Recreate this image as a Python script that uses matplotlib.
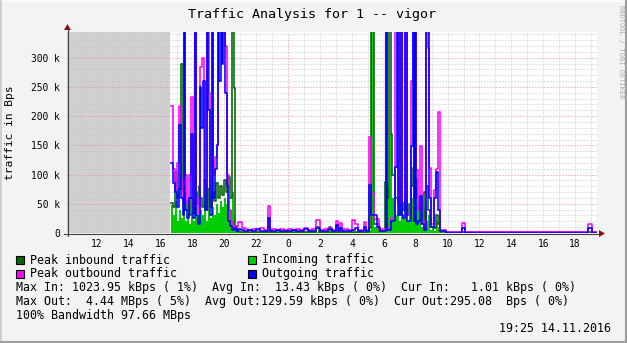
import matplotlib
matplotlib.use("Agg")
import matplotlib.pyplot as plt
from matplotlib.lines import Line2D
from matplotlib.patches import Rectangle, Polygon
import numpy as np

# ---------------- data (time in hours since midnight of day 1, values in kBps) ----------------
t_start, t_end = 10.125, 43.375
unknown_end = 16.5625

out_t = [16.625, 16.75, 16.875, 17.0, 17.125, 17.25, 17.375, 17.4375, 17.5, 17.625, 17.75, 17.875,
         18.0, 18.125, 18.1875, 18.3125, 18.4375, 18.5625, 18.6875, 18.8125, 18.9375, 19.0, 19.125,
         19.25, 19.3125, 19.4375, 19.5625, 19.625, 19.6875, 19.8125, 19.875, 19.9375, 20.0625, 20.1875,
         20.25, 20.375,
         20.5, 20.625, 20.75, 20.875, 21.0625, 21.25, 21.5, 21.75, 22.0, 22.25, 22.5, 22.75, 22.875,
         23.0, 23.25, 23.5, 23.75, 24.0, 24.25, 24.5, 24.75, 25.0, 25.25, 25.5, 25.75, 26.0, 26.25,
         26.5, 26.75, 27.0, 27.125, 27.25, 27.375, 27.5, 27.75, 28.0, 28.1875, 28.375, 28.75, 28.875,
         29.0625, 29.1875, 29.5625, 29.75, 30.125, 30.1875, 30.4375, 30.6875, 30.8125, 30.875, 31.0,
         31.125, 31.1875, 31.3125, 31.4375, 31.6875, 31.8125, 31.875, 31.9375, 32.0, 32.125, 32.25,
         32.375, 32.5, 32.625, 32.8125, 32.9375, 33.125, 33.25, 33.375, 33.5, 33.875, 34.875, 35.0625,
         42.8125, 43.0625]
out_v = [120, 85, 70, 45, 185, 60, 30, 400, 40, 25, 60, 170,
         25, 400, 30, 15, 250, 180, 260, 40, 400, 210, 30,
         400, 60, 110, 150, 400, 260, 400, 290, 400, 240, 80,
         20, 12,
         5, 8, 4, 7, 5, 3, 5, 3, 6, 3, 4, 26, 4,
         3, 5, 3, 4, 3, 5, 3, 4, 6, 3, 4, 8, 3, 4,
         6, 3, 14, 3, 8, 3, 4, 3, 5, 8, 3, 10, 3,
         82, 30, 10, 4, 400, 5, 20, 113, 400, 30, 400,
         30, 25, 400, 20, 149, 400, 20, 400, 15, 20, 64,
         15, 5, 400, 60, 10, 60, 105, 40, 3, 0.5, 8, 0.5,
         8, 0.5]

pout_t = [16.625, 16.75, 16.875, 17.0, 17.125, 17.25, 17.375, 17.4375, 17.5, 17.625, 17.75, 17.875,
          18.0, 18.125, 18.1875, 18.3125, 18.4375, 18.625, 18.75, 18.9375, 19.0625, 19.125, 19.25,
          19.3125, 19.4375, 19.5625, 19.625, 20.0625, 20.1875, 20.3125, 20.4375, 20.5625, 20.6875,
          20.875, 21.125, 21.3125, 21.5, 21.75, 22.0, 22.25, 22.5, 22.75, 22.875, 23.0, 23.25, 23.5,
          23.75, 24.0, 24.25, 24.5, 24.75, 25.0, 25.25, 25.5, 25.75, 26.0, 26.25, 26.5, 26.75, 27.0,
          27.125, 27.25, 27.375, 27.5, 27.75, 28.0, 28.1875, 28.375, 28.75, 28.875, 29.0625, 29.1875,
          29.375, 29.6875, 30.125, 30.1875, 30.4375, 30.6875, 30.875, 31.0, 31.125, 31.1875, 31.3125,
          31.4375, 31.6875, 31.8125, 31.875, 31.9375, 32.0, 32.125, 32.25, 32.375, 32.5, 32.625,
          32.75, 32.8125, 32.9375, 33.125, 33.25, 33.375, 33.5, 33.875, 34.875, 35.0625, 42.8125,
          43.0625]
pout_v = [217, 110, 75, 120, 217, 90, 55, 400, 100, 50, 100, 233,
          45, 400, 60, 35, 284, 300, 70, 400, 240, 60, 400,
          100, 130, 150, 400, 320, 100, 40, 18, 12, 10,
          19, 8, 6, 5, 7, 5, 8, 5, 46, 5, 6, 5, 7,
          5, 6, 5, 7, 5, 8, 5, 6, 22, 5, 6, 8, 5, 20,
          5, 17, 5, 6, 5, 22, 16, 5, 18, 5, 165, 68,
          24, 6, 400, 8, 25, 400, 50, 400, 50, 52, 400,
          30, 260, 400, 30, 400, 107, 40, 149, 20, 5, 400,
          316, 112, 15, 74, 110, 207, 5, 1, 17, 1, 15,
          1]

in_t = [16.625, 16.75, 16.875, 17.0, 17.125, 17.25, 17.375, 17.5, 17.625, 17.75, 17.875, 18.0,
        18.125, 18.25, 18.375, 18.5, 18.625, 18.75, 18.875, 19.0, 19.125, 19.25, 19.375, 19.5,
        19.625, 19.75, 19.875, 20.0, 20.125, 20.25, 20.375, 20.5, 20.59, 20.6875, 20.8125, 20.9375,
        29.0625, 29.1875, 29.375, 29.6875, 30.0625, 30.1875, 30.3125, 30.375, 30.5, 30.625, 30.75,
        30.9375, 31.0625, 31.1875, 31.3125, 31.4375, 31.5625, 31.6875, 31.8125, 31.9375, 32.0625,
        32.1875, 32.3125, 32.5, 32.625, 32.75, 32.875, 33.0, 33.125, 33.25, 33.375, 33.5]
in_v = [48, 30, 55, 20, 40, 25, 45, 20, 30, 15, 35, 20,
        45, 30, 55, 40, 30, 50, 20, 40, 25, 45, 30, 50,
        35, 55, 45, 60, 50, 65, 40, 70, 30, 8, 3, 1.5,
        5, 400, 10, 3, 50, 80, 60, 170, 60, 45, 30,
        20, 40, 25, 55, 20, 35, 60, 30, 80, 50,
        25, 10, 45, 20, 30, 5, 10, 3, 20, 10, 0.8]

pin_t = [16.625, 16.75, 16.875, 17.0, 17.125, 17.25, 17.375, 17.5, 17.625, 17.75, 17.875, 18.0,
         18.125, 18.25, 18.375, 18.5, 18.625, 18.75, 18.875, 19.0, 19.125, 19.25, 19.375, 19.5,
         19.625, 19.75, 19.875, 20.0, 20.125, 20.25, 20.375, 20.46875, 20.59375, 20.6875, 20.8125,
         20.9375, 25.75, 25.9375, 26.5625, 26.6875, 29.0625, 29.1875, 29.375, 29.6875, 30.0625,
         30.1875, 30.3125, 30.4375, 30.5, 30.6875, 30.9375, 31.0625, 31.1875, 31.3125, 31.4375,
         31.5625, 31.6875, 31.8125, 31.9375, 32.0625, 32.1875, 32.3125, 32.5, 32.625, 32.75, 32.875,
         33.125, 33.25, 33.375, 33.5]
pin_v = [52, 45, 105, 60, 75, 289, 70, 40, 55, 30, 60, 35,
         70, 50, 80, 60, 45, 90, 40, 75, 45, 70, 55, 85,
         60, 80, 65, 90, 70, 95, 60, 400, 248, 12, 5,
         2, 10, 2, 10, 2, 8, 400, 15, 4, 88,
         60, 400, 170, 100, 60, 30, 50, 40, 70, 30,
         50, 80, 112, 90, 60, 40, 15, 70, 80, 40, 10,
         8, 30, 15, 1.5]

x_ticks = [12, 14, 16, 18, 20, 22, 24, 26, 28, 30, 32, 34, 36, 38, 40, 42]
x_tick_labels = [str(int(h) % 24) for h in x_ticks]
y_ticks = [0, 50, 100, 150, 200, 250, 300]
y_tick_labels = ["0", "50 k", "100 k", "150 k", "200 k", "250 k", "300 k"]

title = "Traffic Analysis for 1 -- vigor"
legend_items = [("Peak inbound traffic", "#006600"), ("Incoming traffic", "#00CC00"),
                ("Peak outbound traffic", "#FF00FF"), ("Outgoing traffic", "#0000FF")]
stats_lines = ["Max In: 1023.95 kBps ( 1%)  Avg In:  13.43 kBps ( 0%)  Cur In:   1.01 kBps ( 0%)",
               "Max Out:  4.44 MBps ( 5%)  Avg Out:129.59 kBps ( 0%)  Cur Out:295.08  Bps ( 0%)",
               "100% Bandwidth 97.66 MBps"]
stamp = "19:25 14.11.2016"

# ---------------- figure ----------------
W, H = 627, 343
MONO = "DejaVu Sans Mono"
fig = plt.figure(figsize=(W / 100, H / 100), dpi=100, facecolor="#F3F3F3")

def P(x, y):
    return (x / W, 1 - y / H)

# frame
fig.add_artist(Line2D([0, 1], [1 - 0.5 / H, 1 - 0.5 / H], transform=fig.transFigure, color="#FCFCFC", lw=1.2))
fig.add_artist(Line2D([0.5 / W, 0.5 / W], [0, 1], transform=fig.transFigure, color="#CFCFCF", lw=1.4))
fig.add_artist(Line2D([0, 1], [1.0 / H, 1.0 / H], transform=fig.transFigure, color="#9E9E9E", lw=1.5))
fig.add_artist(Line2D([1 - 1.0 / W, 1 - 1.0 / W], [0, 1], transform=fig.transFigure, color="#9E9E9E", lw=1.5))

ax_l, ax_r, ax_t, ax_b = 67, 597, 32, 233
ax = fig.add_axes([ax_l / W, 1 - ax_b / H, (ax_r - ax_l) / W, (ax_b - ax_t) / H])
ax.set_facecolor("white")
ymax = 344
ax.set_xlim(t_start, t_end)
ax.set_ylim(0, ymax)
for s in ax.spines.values():
    s.set_visible(False)

# unknown region
ax.axvspan(t_start, unknown_end, color="#D0D0D0", lw=0, zorder=0.5)

# grid
dot = (0, (1.0, 2.0))
for h in np.arange(11, 44, 1):
    if h == 24:
        continue
    ax.axvline(h, color="#C4C4C4", lw=0.72, ls=dot, zorder=1)
for v in range(10, 341, 10):
    if v % 50 == 0:
        continue
    ax.axhline(v, color="#C4C4C4", lw=0.72, ls=dot, zorder=1)
for v in range(50, 341, 50):
    ax.axhline(v, color="#F08888", lw=0.72, ls=dot, zorder=1.1)
ax.axvline(24, color="#F08888", lw=0.72, ls=dot, zorder=1.1)

def ext(t, v):
    return list(t) + [t_end], list(v) + [v[-1]]

LW = 1.15
ti, vi = ext(in_t, in_v)
ax.fill_between(ti, vi, step="post", color="#00CC00", lw=0, zorder=2)
tp, vp = ext(pin_t, pin_v)
ax.plot(tp, vp, drawstyle="steps-post", color="#006600", lw=LW, zorder=3)
tpo, vpo = ext(pout_t, pout_v)
ax.plot(tpo, vpo, drawstyle="steps-post", color="#FF00FF", lw=LW, zorder=4)
to, vo = ext(out_t, out_v)
ax.plot(to, vo, drawstyle="steps-post", color="#0000FF", lw=LW, zorder=5)

ax.set_xticks(x_ticks)
ax.set_xticklabels(x_tick_labels, fontfamily=MONO, fontsize=6.9)
ax.set_yticks(y_ticks)
ax.set_yticklabels(y_tick_labels, fontfamily=MONO, fontsize=6.9)
ax.tick_params(axis="both", length=0, pad=5)
ax.tick_params(axis="x", pad=4)

# axes lines and arrows
axis_col = "#404040"
arrow_col = "#8B1010"
fig.add_artist(Line2D([64 / W, 599 / W], [1 - 233.5 / H] * 2, transform=fig.transFigure, color=axis_col, lw=0.8))
fig.add_artist(Line2D([67.5 / W] * 2, [1 - 236 / H, 1 - 29 / H], transform=fig.transFigure, color=axis_col, lw=0.8))
fig.add_artist(Polygon([P(599, 230), P(599, 237), P(605, 233.5)], closed=True, transform=fig.transFigure,
                       color=arrow_col, lw=0))
fig.add_artist(Polygon([P(64, 30), P(71, 30), P(67.5, 24)], closed=True, transform=fig.transFigure,
                       color=arrow_col, lw=0))

# texts
fig.text(*P(312, 14.5), title, fontfamily=MONO, fontsize=9.6, ha="center", va="center", color="#000000")
fig.text(*P(10, 133), "traffic in Bps", fontfamily=MONO, fontsize=8.1, rotation=90, ha="center", va="center")
fig.text(*P(621, 52), "RRDTOOL / TOBI OETIKER", fontfamily=MONO, fontsize=5.0, rotation=270,
         ha="center", va="center", color="#A8A8A8")

pos = [(16, 260), (248, 260), (16, 273.5), (248, 273.5)]
for (lab, col), (x, y) in zip(legend_items, pos):
    fig.add_artist(Rectangle(P(x, y + 4), 8 / W, 8 / H, transform=fig.transFigure, facecolor=col,
                             edgecolor="black", lw=0.8))
    fig.text(*P(x + 14.5, y), lab, fontfamily=MONO, fontsize=8.37, ha="left", va="center")

for i, line in enumerate(stats_lines):
    fig.text(*P(16.5, 287.5 + 14 * i), line, fontfamily=MONO, fontsize=8.37, ha="left", va="center")
fig.text(*P(611, 329), stamp, fontfamily=MONO, fontsize=8.37, ha="right", va="center")

fig.savefig("out.png", dpi=100, facecolor=fig.get_facecolor())
